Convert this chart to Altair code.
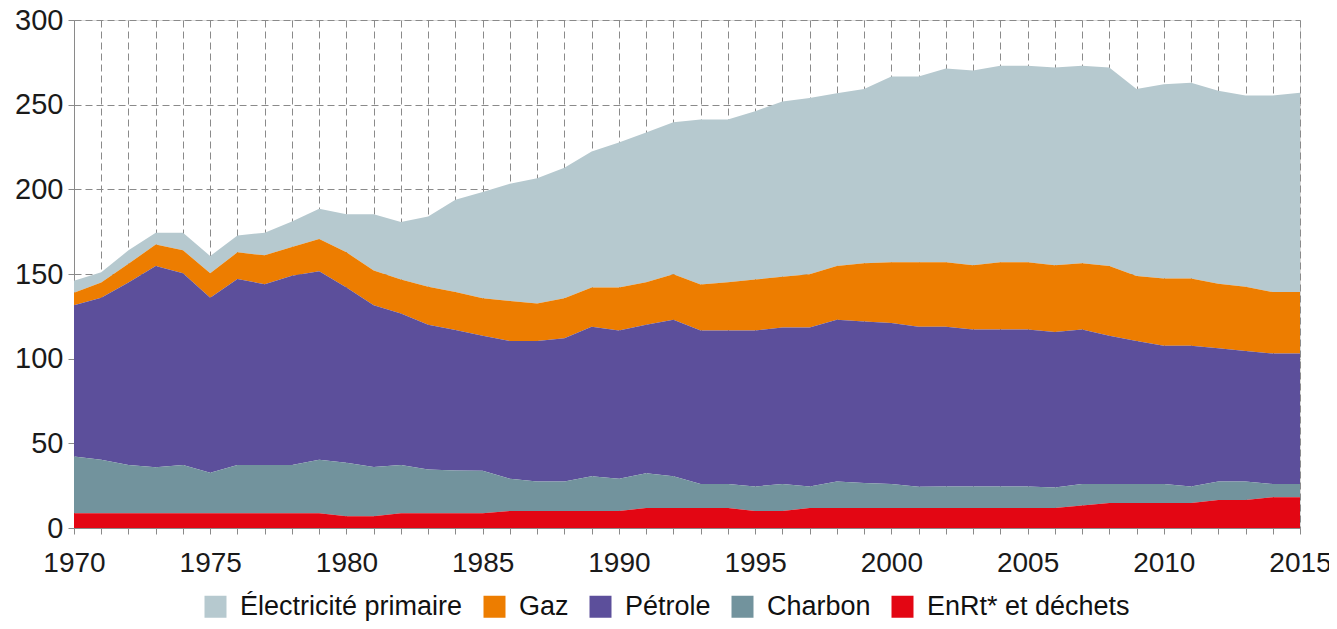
import altair as alt
import pandas as pd

years = list(range(1970, 2016))

series_names = ["Électricité primaire", "Gaz", "Pétrole", "Charbon", "EnRt* et déchets"]
series_colors = ["#b6c9cf", "#ed7d00", "#5c4f9b", "#72939d", "#e30613"]

elec = [7.0, 6.0, 8.0, 7.0, 10.4, 10.1, 9.9, 13.4, 15.0, 17.9,
        22.5, 33.3, 34.0, 41.5, 54.5, 62.7, 69.3, 73.9, 77.1, 80.3,
        85.6, 88.3, 89.7, 97.5, 96.1, 99.4, 103.4, 104.1, 102.0, 102.8,
        109.7, 109.7, 114.4, 115.0, 116.1, 116.1, 116.7, 116.6, 117.2, 110.4,
        114.6, 115.6, 114.0, 112.9, 116.1, 117.8]
gaz = [7.5, 9.0, 11.0, 12.7, 13.5, 14.5, 15.8, 17.0, 17.0, 19.0,
       20.8, 20.5, 20.0, 22.5, 22.3, 22.1, 23.6, 22.2, 23.7, 23.1,
       25.3, 25.2, 26.9, 27.1, 28.5, 30.0, 30.0, 31.5, 31.7, 34.4,
       35.9, 38.0, 38.0, 38.0, 39.7, 39.7, 39.5, 39.2, 41.1, 38.4,
       39.7, 39.7, 38.0, 38.0, 36.3, 36.3]
petrole = [89.3, 95.7, 107.8, 118.8, 113.3, 103.3, 109.8, 106.8, 111.8, 111.3,
           103.4, 95.5, 89.5, 85.5, 83.0, 79.8, 81.3, 83.0, 84.6, 88.3,
           87.6, 87.7, 92.4, 90.7, 90.7, 92.2, 92.4, 93.9, 95.6, 95.4,
           95.0, 94.6, 94.4, 92.7, 92.7, 92.7, 91.8, 91.2, 87.6, 84.4,
           81.7, 83.2, 78.8, 77.1, 77.0, 77.0]
charbon = [33.5, 31.6, 28.5, 27.2, 28.5, 24.0, 28.5, 28.5, 28.5, 31.6,
           31.6, 29.0, 28.5, 25.8, 25.3, 25.1, 19.0, 17.3, 17.3, 20.5,
           19.0, 20.5, 18.8, 14.2, 14.2, 14.4, 15.9, 12.7, 15.6, 14.8,
           14.2, 12.5, 12.7, 12.7, 12.7, 12.7, 12.1, 12.7, 11.2, 11.2,
           11.2, 9.7, 10.9, 10.9, 7.8, 7.8]
enrt = [8.7, 8.7, 8.7, 8.7, 8.7, 8.7, 8.7, 8.7, 8.7, 8.7,
        7.0, 7.0, 8.7, 8.7, 8.7, 8.7, 10.1, 10.1, 10.1, 10.1,
        10.1, 11.8, 11.8, 11.8, 11.8, 10.1, 10.1, 11.8, 11.8, 11.8,
        11.8, 11.8, 11.8, 11.8, 11.8, 11.8, 11.8, 13.3, 14.8, 14.8,
        14.8, 14.8, 16.5, 16.5, 18.2, 18.2]

y_ticks = [0, 50, 100, 150, 200, 250, 300]

series_values = [elec, gaz, petrole, charbon, enrt]
rows = []
for name, vals in zip(series_names, series_values):
    rank = len(series_names) - series_names.index(name)  # EnRt at bottom
    for yr, v in zip(years, vals):
        rows.append({"annee": yr, "energie": name, "valeur": v, "rang": rank})
df = pd.DataFrame(rows)

FONT = "Liberation Sans"
GRID = "#8a8a8a"

x_label_expr = ("datum.value == 2015 ? datum.label + '\u2009' : "
                "(datum.value % 5 == 0 ? datum.label : '')")

chart = alt.Chart(df).mark_area(interpolate="linear").encode(
    x=alt.X("annee:Q",
            scale=alt.Scale(domain=[1970, 2015], nice=False, zero=False),
            axis=alt.Axis(values=years, title=None, format="d",
                          labelExpr=x_label_expr,
                          grid=True, gridDash=[7, 4], gridColor=GRID, gridWidth=1,
                          tickSize=6, tickColor=GRID, domainColor=GRID,
                          labelFontSize=28, labelFont=FONT, labelColor="#1a1a1a",
                          labelPadding=15, labelFlush=False, labelOverlap=False)),
    y=alt.Y("valeur:Q", stack="zero",
            scale=alt.Scale(domain=[0, 300], nice=False),
            axis=alt.Axis(values=y_ticks, title=None,
                          grid=True, gridDash=[7, 4], gridColor=GRID, gridWidth=1,
                          tickSize=6, tickColor=GRID, domainColor=GRID,
                          labelFontSize=29, labelFont=FONT, labelColor="#1a1a1a",
                          labelPadding=5)),
    color=alt.Color("energie:N",
                    scale=alt.Scale(domain=series_names, range=series_colors),
                    sort=series_names,
                    legend=alt.Legend(title=None, orient="none", direction="horizontal",
                                      legendX=128, legendY=573,
                                      symbolType="square", symbolSize=484,
                                      symbolStrokeWidth=0, symbolOpacity=1,
                                      labelFontSize=27, labelFont=FONT, labelColor="#111111",
                                      labelOffset=11, columnPadding=18, labelLimit=400)),
    order=alt.Order("rang:Q", sort="ascending"),
).properties(
    width=1226,
    height=508,
    autosize=alt.AutoSizeParams(type="none"),
    padding={"left": 66, "top": 12, "right": 29, "bottom": 93},
).configure_view(stroke=None).configure(background="white")

chart.save("out.html", embed_options={"renderer": "svg", "actions": False})
